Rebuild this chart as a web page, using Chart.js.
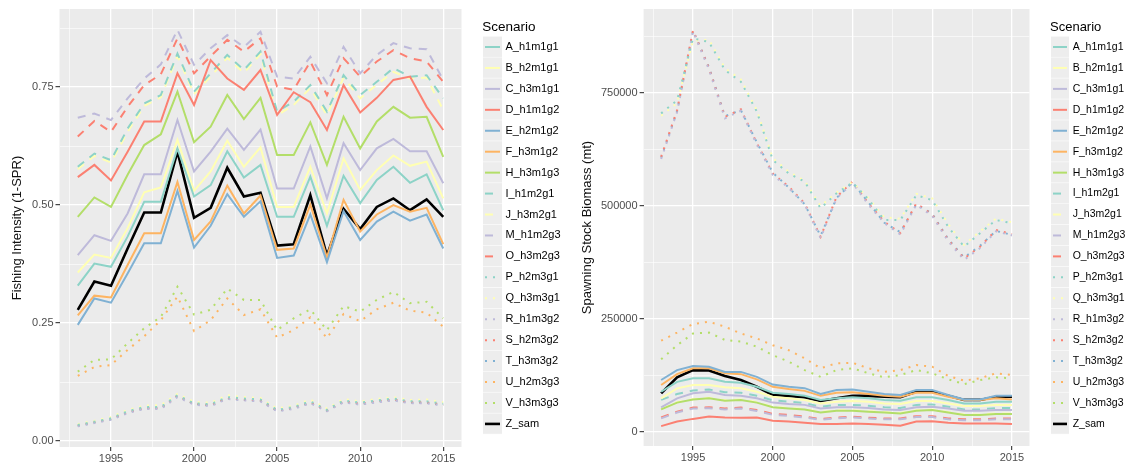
<!DOCTYPE html>
<html>
<head>
<meta charset="utf-8">
<script src="https://cdn.jsdelivr.net/npm/chart.js@4.4.1/dist/chart.umd.min.js"></script>
<style>
  body { margin: 0; background: #fff; }
  #wrap { position: relative; width: 1129px; height: 464px; }
  canvas { position: absolute; top: 0; }
</style>
</head>
<body>
<div id="wrap">
  <canvas id="fiChart" width="565" height="464" style="left:0"></canvas>
  <canvas id="ssbChart" width="564" height="464" style="left:565px"></canvas>
</div>
<script>
// years and scenarios
const years = [1993, 1994, 1995, 1996, 1997, 1998, 1999, 2000, 2001, 2002, 2003, 2004,
               2005, 2006, 2007, 2008, 2009, 2010, 2011, 2012, 2013, 2014, 2015];
const scenarios = ['A_h1m1g1', 'B_h2m1g1', 'C_h3m1g1', 'D_h1m1g2', 'E_h2m1g2', 'F_h3m1g2', 'H_h3m1g3',
                   'I_h1m2g1', 'J_h3m2g1', 'M_h1m2g3', 'O_h3m2g3',
                   'P_h2m3g1', 'Q_h3m3g1', 'R_h1m3g2', 'S_h2m3g2', 'T_h3m3g2', 'U_h2m3g3', 'V_h3m3g3', 'Z_sam'];
const scenarioColors = ['#8DD3C7', '#FFFFB3', '#BEBADA', '#FB8072', '#80B1D3', '#FDB462', '#B3DE69',
                        '#8DD3C7', '#FFFFB3', '#BEBADA', '#FB8072',
                        '#8DD3C7', '#FFFFB3', '#BEBADA', '#FB8072', '#80B1D3', '#FDB462', '#B3DE69', '#000000'];
const scenarioLines = ['solid', 'solid', 'solid', 'solid', 'solid', 'solid', 'solid',
                       'dashed', 'dashed', 'dashed', 'dashed',
                       'dotted', 'dotted', 'dotted', 'dotted', 'dotted', 'dotted', 'dotted', 'solid'];

// Fishing intensity (1-SPR)
const fi_A = [0.329, 0.376, 0.369, 0.433, 0.507, 0.507, 0.620, 0.518, 0.542, 0.614, 0.558, 0.585, 0.475, 0.475, 0.560, 0.456, 0.562, 0.504, 0.553, 0.581, 0.547, 0.565, 0.489];
const fi_B = [0.357, 0.395, 0.388, 0.451, 0.527, 0.537, 0.638, 0.530, 0.571, 0.636, 0.581, 0.622, 0.496, 0.496, 0.581, 0.482, 0.599, 0.532, 0.574, 0.605, 0.583, 0.592, 0.514];
const fi_C = [0.394, 0.436, 0.424, 0.482, 0.565, 0.565, 0.680, 0.571, 0.613, 0.662, 0.617, 0.660, 0.535, 0.535, 0.624, 0.514, 0.631, 0.574, 0.620, 0.640, 0.614, 0.614, 0.546];
const fi_D = [0.559, 0.585, 0.552, 0.613, 0.677, 0.677, 0.779, 0.712, 0.807, 0.768, 0.744, 0.786, 0.691, 0.739, 0.718, 0.659, 0.754, 0.696, 0.727, 0.765, 0.772, 0.708, 0.659];
const fi_E = [0.246, 0.302, 0.293, 0.355, 0.419, 0.419, 0.530, 0.410, 0.456, 0.523, 0.475, 0.508, 0.388, 0.393, 0.480, 0.379, 0.487, 0.426, 0.465, 0.486, 0.467, 0.480, 0.408];
const fi_F = [0.266, 0.308, 0.304, 0.373, 0.440, 0.440, 0.549, 0.426, 0.465, 0.541, 0.482, 0.520, 0.405, 0.408, 0.501, 0.389, 0.511, 0.444, 0.480, 0.500, 0.486, 0.494, 0.417];
const fi_H = [0.475, 0.516, 0.496, 0.564, 0.627, 0.650, 0.740, 0.633, 0.666, 0.733, 0.682, 0.727, 0.606, 0.606, 0.675, 0.585, 0.687, 0.620, 0.677, 0.708, 0.685, 0.687, 0.602];
const fi_I = [0.581, 0.609, 0.595, 0.662, 0.715, 0.733, 0.821, 0.740, 0.779, 0.818, 0.786, 0.825, 0.698, 0.719, 0.754, 0.698, 0.775, 0.733, 0.761, 0.790, 0.772, 0.775, 0.726];
const fi_J = [0.576, 0.604, 0.590, 0.655, 0.710, 0.728, 0.816, 0.735, 0.772, 0.812, 0.780, 0.820, 0.690, 0.712, 0.748, 0.690, 0.770, 0.726, 0.755, 0.782, 0.768, 0.770, 0.701];
const fi_M = [0.685, 0.694, 0.680, 0.726, 0.768, 0.798, 0.871, 0.797, 0.832, 0.860, 0.835, 0.867, 0.772, 0.768, 0.814, 0.758, 0.835, 0.779, 0.818, 0.843, 0.832, 0.830, 0.765];
const fi_O = [0.645, 0.678, 0.655, 0.708, 0.754, 0.777, 0.853, 0.779, 0.815, 0.850, 0.825, 0.853, 0.751, 0.744, 0.804, 0.733, 0.811, 0.772, 0.804, 0.828, 0.811, 0.804, 0.761];
const fi_P = [0.034, 0.041, 0.048, 0.063, 0.072, 0.072, 0.097, 0.080, 0.078, 0.093, 0.090, 0.088, 0.066, 0.072, 0.084, 0.066, 0.086, 0.081, 0.086, 0.090, 0.084, 0.084, 0.079];
const fi_Q = [0.036, 0.043, 0.051, 0.066, 0.075, 0.076, 0.100, 0.083, 0.081, 0.097, 0.093, 0.091, 0.069, 0.075, 0.088, 0.069, 0.089, 0.084, 0.089, 0.093, 0.087, 0.088, 0.082];
const fi_R = [0.031, 0.038, 0.045, 0.059, 0.068, 0.068, 0.093, 0.077, 0.074, 0.089, 0.086, 0.084, 0.063, 0.068, 0.080, 0.063, 0.082, 0.077, 0.082, 0.086, 0.080, 0.080, 0.075];
const fi_S = [0.033, 0.040, 0.047, 0.061, 0.070, 0.070, 0.096, 0.079, 0.076, 0.091, 0.088, 0.086, 0.065, 0.070, 0.082, 0.065, 0.084, 0.079, 0.084, 0.088, 0.082, 0.082, 0.077];
const fi_T = [0.032, 0.039, 0.046, 0.060, 0.069, 0.069, 0.095, 0.078, 0.075, 0.090, 0.087, 0.085, 0.064, 0.069, 0.081, 0.064, 0.083, 0.078, 0.083, 0.087, 0.081, 0.081, 0.076];
const fi_U = [0.138, 0.157, 0.161, 0.193, 0.222, 0.256, 0.306, 0.233, 0.256, 0.302, 0.267, 0.279, 0.219, 0.235, 0.262, 0.218, 0.269, 0.254, 0.279, 0.293, 0.276, 0.272, 0.242];
const fi_V = [0.147, 0.172, 0.173, 0.207, 0.239, 0.263, 0.327, 0.268, 0.278, 0.323, 0.299, 0.299, 0.235, 0.260, 0.279, 0.235, 0.286, 0.274, 0.299, 0.316, 0.292, 0.295, 0.260];
const fi_Z = [0.278, 0.338, 0.329, 0.408, 0.484, 0.484, 0.613, 0.473, 0.494, 0.579, 0.518, 0.526, 0.414, 0.417, 0.521, 0.393, 0.492, 0.449, 0.496, 0.514, 0.489, 0.512, 0.475];

// Spawning stock biomass (mt)
const ssb_A = [89000, 111000, 119000, 119000, 111000, 109000, 100000, 87000, 84000, 80000, 71000, 74500, 77000, 74500, 71000, 69000, 77000, 77000, 71000, 63000, 63000, 67000, 67000];
const ssb_B = [74500, 96600, 104000, 104000, 99000, 96600, 89000, 78000, 74500, 71000, 63000, 67000, 68600, 67000, 63000, 62000, 68600, 68600, 63000, 57500, 57500, 60000, 60000];
const ssb_C = [54600, 74500, 85500, 89000, 82000, 80000, 74500, 65000, 62000, 60000, 52000, 54600, 54600, 53000, 50000, 48700, 54600, 56000, 52000, 47000, 47000, 48700, 48700];
const ssb_D = [13000, 23000, 29000, 34000, 32000, 31700, 32000, 25000, 23000, 20600, 17700, 17700, 19000, 17700, 16000, 14000, 23000, 24000, 20600, 19000, 19000, 19000, 17700];
const ssb_E = [115000, 137000, 146000, 144500, 133000, 133000, 122000, 105000, 100000, 97000, 84000, 93000, 94000, 89000, 84000, 82000, 93000, 93000, 82000, 72000, 72000, 80000, 80000];
const ssb_F = [104000, 128000, 141000, 141000, 130000, 128000, 116500, 100000, 95000, 91000, 80000, 87000, 88000, 84000, 80000, 78000, 87000, 87000, 78000, 71000, 71000, 74500, 72000];
const ssb_H = [50000, 65000, 72000, 74500, 69000, 71000, 65000, 54600, 52000, 50000, 43000, 47000, 47000, 45000, 43000, 41000, 47000, 48700, 43000, 37600, 37600, 40000, 40000];
const ssb_I = [71000, 84000, 92000, 94000, 88000, 87000, 80000, 70000, 67000, 64000, 56000, 60000, 60000, 58000, 55000, 53000, 60000, 61000, 56000, 50000, 50000, 53000, 53000];
const ssb_J = [51000, 66000, 73000, 75500, 70000, 72000, 66000, 55600, 53000, 51000, 44000, 48000, 48000, 46000, 44000, 42000, 48000, 49700, 44000, 38600, 38600, 41000, 41000];
const ssb_M = [30000, 43000, 52000, 52600, 50000, 52000, 46700, 38000, 35600, 32000, 27000, 30000, 32000, 29700, 28000, 28000, 33000, 33000, 28000, 26000, 26000, 28000, 28000];
const ssb_O = [32000, 45000, 54000, 54600, 52000, 54000, 48700, 40000, 37600, 34000, 28800, 32000, 34000, 31700, 30000, 30000, 35000, 35000, 30000, 28000, 28000, 30000, 30000];
const ssb_P = [705000, 734000, 871000, 863000, 801000, 775000, 709000, 602000, 572000, 554000, 495000, 528000, 552000, 515000, 469000, 469000, 524000, 513000, 454000, 410000, 440000, 469000, 462000];
const ssb_Q = [700000, 728000, 866000, 868000, 805000, 780000, 712000, 606000, 576000, 556000, 500000, 530000, 553000, 518000, 475000, 472000, 527000, 517000, 460000, 414000, 444000, 472000, 464000];
const ssb_R = [604000, 708000, 886000, 802000, 694000, 711000, 636000, 569000, 540000, 503000, 429000, 517000, 551000, 503000, 462000, 437000, 503000, 478000, 422000, 381000, 407000, 444000, 435000];
const ssb_S = [609000, 712000, 889000, 805000, 697000, 714000, 639000, 572000, 543000, 506000, 432000, 520000, 554000, 506000, 465000, 440000, 506000, 481000, 425000, 384000, 410000, 447000, 438000];
const ssb_T = [607000, 710000, 888000, 807000, 699000, 712000, 641000, 574000, 541000, 504000, 434000, 518000, 552000, 508000, 463000, 442000, 504000, 483000, 427000, 386000, 412000, 445000, 436000];
const ssb_U = [202000, 220000, 239000, 244000, 233000, 218000, 207000, 192000, 181000, 163000, 141000, 152000, 153000, 141000, 133000, 137000, 148000, 144500, 124000, 113600, 119000, 130000, 126000];
const ssb_V = [161000, 192000, 218000, 220000, 203600, 200000, 189000, 170000, 155600, 137000, 122000, 137000, 141000, 130000, 121000, 126000, 137000, 130000, 116500, 106000, 115000, 121000, 119000];
const ssb_Z = [85500, 121000, 137000, 136000, 124000, 115000, 100000, 82000, 80000, 77000, 68600, 74500, 80000, 80000, 78000, 77000, 89000, 89000, 80000, 71000, 71000, 78000, 78000];

const fiSeries = [fi_A, fi_B, fi_C, fi_D, fi_E, fi_F, fi_H, fi_I, fi_J, fi_M, fi_O, fi_P, fi_Q, fi_R, fi_S, fi_T, fi_U, fi_V, fi_Z];
const ssbSeries = [ssb_A, ssb_B, ssb_C, ssb_D, ssb_E, ssb_F, ssb_H, ssb_I, ssb_J, ssb_M, ssb_O, ssb_P, ssb_Q, ssb_R, ssb_S, ssb_T, ssb_U, ssb_V, ssb_Z];

// axis ticks (major labelled, minor only grid)
const xGridTicks = [1992.5, 1995, 1997.5, 2000, 2002.5, 2005, 2007.5, 2010, 2012.5, 2015];
const xMajorTicks = [1995, 2000, 2005, 2010, 2015];
const fiGridTicks = [0, 0.125, 0.25, 0.375, 0.5, 0.625, 0.75, 0.875];
const fiMajorTicks = [0, 0.25, 0.5, 0.75];
const ssbGridTicks = [0, 125000, 250000, 375000, 500000, 625000, 750000, 875000];
const ssbMajorTicks = [0, 250000, 500000, 750000];

Chart.defaults.font.family = '"Liberation Sans", Arial, sans-serif';

const dashes = { solid: [], dashed: [8, 7], dotted: [2, 6] };

const panelBg = {
  id: 'panelBg',
  beforeDraw(chart) {
    const { ctx, chartArea: a } = chart;
    ctx.save();
    ctx.fillStyle = '#EBEBEB';
    ctx.fillRect(a.left, a.top, a.right - a.left, a.bottom - a.top);
    ctx.restore();
  }
};

// ggplot-like legend on the right
const ggLegend = {
  id: 'ggLegend',
  afterDraw(chart, args, opts) {
    const ctx = chart.ctx;
    ctx.save();
    ctx.textBaseline = 'middle';
    ctx.fillStyle = '#000';
    ctx.font = opts.titleSize + 'px "Liberation Sans", Arial, sans-serif';
    ctx.fillText('Scenario', opts.titleX, 27);
    ctx.font = opts.textSize + 'px "Liberation Sans", Arial, sans-serif';
    scenarios.forEach((name, i) => {
      const y = 47 + i * 20.94;
      ctx.fillStyle = '#EDEDED';
      ctx.fillRect(opts.keyX, y - 10.47, opts.keyW, 20.94);
      ctx.fillStyle = '#FFFFFF';
      ctx.fillRect(opts.keyX, y + 9.9, opts.keyW, 1);
      ctx.beginPath();
      ctx.strokeStyle = scenarioColors[i];
      ctx.lineWidth = name === 'Z_sam' ? 2.6 : 2;
      ctx.lineCap = 'butt';
      ctx.setLineDash(dashes[scenarioLines[i]]);
      ctx.moveTo(opts.keyX + 2, y);
      ctx.lineTo(opts.keyX + opts.keyW - 2, y);
      ctx.stroke();
      ctx.setLineDash([]);
      ctx.fillStyle = '#000';
      ctx.fillText(name, opts.textX, y);
    });
    ctx.restore();
  }
};

function makeDatasets(series) {
  return series.map((vals, i) => ({
    label: scenarios[i],
    data: years.map((yr, k) => ({ x: yr, y: vals[k] })),
    borderColor: scenarioColors[i],
    borderWidth: scenarios[i] === 'Z_sam' ? 2.6 : 2,
    borderDash: dashes[scenarioLines[i]],
    borderCapStyle: 'butt',
    pointRadius: 0,
    tension: 0,
    fill: false
  }));
}

function makeChart(id, series, cfg) {
  const isMajor = (list, v) => list.some(m => Math.abs(m - v) < 1e-9);
  return new Chart(document.getElementById(id), {
    type: 'line',
    data: { datasets: makeDatasets(series) },
    plugins: [panelBg, ggLegend],
    options: {
      responsive: false,
      animation: false,
      devicePixelRatio: 1,
      events: [],
      layout: { padding: { top: 9, right: cfg.padRight, left: 0, bottom: 0 } },
      plugins: {
        legend: { display: false },
        tooltip: { enabled: false },
        ggLegend: cfg.legend
      },
      scales: {
        x: {
          type: 'linear',
          min: 1991.9,
          max: 2016.1,
          afterBuildTicks: s => { s.ticks = xGridTicks.map(v => ({ value: v })); },
          afterFit: s => { s.height = cfg.xHeight; },
          border: { display: false },
          grid: {
            color: '#FFFFFF',
            lineWidth: c => isMajor(xMajorTicks, c.tick.value) ? 1.3 : 0.6,
            tickLength: 4,
            tickWidth: 1.1,
            tickColor: c => isMajor(xMajorTicks, c.tick.value) ? '#333333' : 'rgba(0,0,0,0)'
          },
          ticks: {
            autoSkip: false, maxRotation: 0, padding: 1,
            color: '#4D4D4D', font: { size: 11 },
            callback: v => isMajor(xMajorTicks, v) ? String(v) : ''
          }
        },
        y: {
          type: 'linear',
          min: cfg.yMin,
          max: cfg.yMax,
          afterBuildTicks: s => { s.ticks = cfg.gridTicks.map(v => ({ value: v })); },
          afterFit: s => { s.width = cfg.yWidth; },
          border: { display: false },
          grid: {
            color: '#FFFFFF',
            lineWidth: c => isMajor(cfg.majorTicks, c.tick.value) ? 1.3 : 0.6,
            tickLength: 4,
            tickWidth: 1.1,
            tickColor: c => isMajor(cfg.majorTicks, c.tick.value) ? '#333333' : 'rgba(0,0,0,0)'
          },
          ticks: {
            autoSkip: false, padding: 2,
            color: '#4D4D4D', font: { size: 11 },
            callback: v => isMajor(cfg.majorTicks, v) ? cfg.fmt(v) : ''
          },
          title: {
            display: true,
            text: cfg.title,
            color: '#111111',
            font: { size: 13 },
            padding: { top: cfg.titlePad, bottom: 0 }
          }
        }
      }
    }
  });
}

makeChart('fiChart', fiSeries, {
  padRight: 103.5, xHeight: 17, yWidth: 59.5,
  yMin: -0.0127, yMax: 0.9153,
  gridTicks: fiGridTicks, majorTicks: fiMajorTicks,
  fmt: v => v.toFixed(2),
  title: 'Fishing Intensity (1-SPR)', titlePad: 10,
  legend: { titleX: 482.3, titleSize: 13.5, textSize: 11, keyX: 483, keyW: 19, textX: 505.5 }
});

makeChart('ssbChart', ssbSeries, {
  padRight: 99.5, xHeight: 18, yWidth: 78.6,
  yMin: -31000, yMax: 936000,
  gridTicks: ssbGridTicks, majorTicks: ssbMajorTicks,
  fmt: v => String(v),
  title: 'Spawning Stock Biomass (mt)', titlePad: 15,
  legend: { titleX: 485, titleSize: 13, textSize: 10.5, keyX: 486, keyW: 18, textX: 507.7 }
});
</script>
</body>
</html>
